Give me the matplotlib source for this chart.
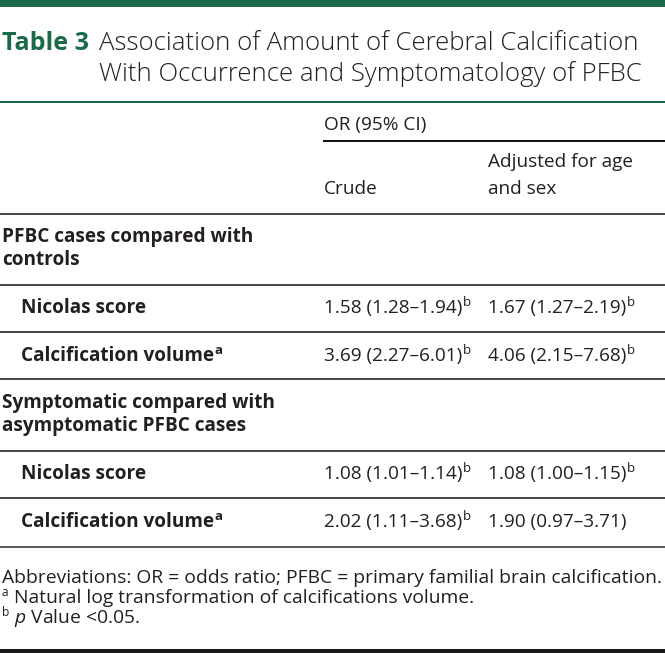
import matplotlib
matplotlib.use("Agg")
import matplotlib.pyplot as plt

# ---- data ----
title_tag = "Table 3"
title_lines = ["Association of Amount of Cerebral Calcification",
               "With Occurrence and Symptomatology of PFBC"]
group_header = "OR (95% CI)"
col_headers = ["Crude", "Adjusted for age\nand sex"]
sections = ["PFBC cases compared with\ncontrols",
            "Symptomatic compared with\nasymptomatic PFBC cases"]
row_labels = ["Nicolas score", "Calcification volume"]
row_label_sup = ["", "a"]
crude_vals = [["1.58 (1.28–1.94)", "3.69 (2.27–6.01)"],
              ["1.08 (1.01–1.14)", "2.02 (1.11–3.68)"]]
crude_sup = [["b", "b"], ["b", "b"]]
adj_vals = [["1.67 (1.27–2.19)", "4.06 (2.15–7.68)"],
            ["1.08 (1.00–1.15)", "1.90 (0.97–3.71)"]]
adj_sup = [["b", "b"], ["b", ""]]
footnotes = [("", "Abbreviations: OR = odds ratio; PFBC = primary familial brain calcification."),
             ("a", "Natural log transformation of calcifications volume."),
             ("b", "$p$ Value <0.05.")]

# ---- style ----
GREEN = "#1b6b4b"
TXT = "#231f20"
LINE = "#4a4a4a"
FONT = "Open Sans"
plt.rcParams['font.family'] = [FONT, 'DejaVu Sans']
plt.rcParams['mathtext.fontset'] = 'custom'
plt.rcParams['mathtext.it'] = 'Open Sans:italic'
plt.rcParams['mathtext.rm'] = 'Open Sans'

W, H = 665, 653
fig = plt.figure(figsize=(W / 100, H / 100), dpi=100)
ax = fig.add_axes([0, 0, 1, 1])
ax.set_xlim(0, W)
ax.set_ylim(H, 0)
ax.axis("off")

PX = 0.72  # points per pixel
BODY = 13.7
FOOT = 13.9
renderer = fig.canvas.get_renderer()


def hline(y, x0=0, x1=W, color=LINE, lw=2):
    ax.plot([x0, x1], [y, y], color=color, lw=lw * PX, solid_capstyle="butt")


def text_sup(x, y, s, sup, weight="normal", size=BODY):
    t = ax.text(x, y, s, fontsize=size, fontweight=weight, color=TXT,
                va="baseline", ha="left")
    if sup:
        bb = t.get_window_extent(renderer=renderer)
        xe = ax.transData.inverted().transform((bb.x1, bb.y0))[0]
        ax.text(xe + 0.5, y - 7.5, sup, fontsize=size * 0.7, fontweight=weight,
                color=TXT, va="baseline", ha="left")
    return t


# top bar and title
ax.add_patch(plt.Rectangle((0, 0), W, 7, color=GREEN, lw=0))
ax.text(2, 50, title_tag, fontsize=18, fontweight="bold", color=GREEN, va="baseline")
ax.text(99, 50, title_lines[0], fontsize=18.5, fontweight="light", color=TXT, va="baseline")
ax.text(99, 81, title_lines[1], fontsize=18.5, fontweight="light", color=TXT, va="baseline")
hline(101.5, color=GREEN, lw=2)

# column headers
COL = [324, 488]
ax.text(COL[0], 130, group_header, fontsize=BODY, color=TXT, va="baseline")
hline(141, COL[0] - 1, W, color="#111111", lw=2)
ax.text(COL[0], 194, col_headers[0], fontsize=BODY, color=TXT, va="baseline")
l1, l2 = col_headers[1].split("\n")
ax.text(COL[1], 167, l1, fontsize=BODY, color=TXT, va="baseline")
ax.text(COL[1], 194, l2, fontsize=BODY, color=TXT, va="baseline")
hline(214)

# body sections
sec_top = [214, 380]
for si, top in enumerate(sec_top):
    a, b = sections[si].split("\n")
    ax.text(2, top + 28, a, fontsize=BODY, fontweight="bold", color=TXT, va="baseline")
    ax.text(2, top + 51, b, fontsize=BODY, fontweight="bold", color=TXT, va="baseline")
    hline(top + 71)
    rtop = top + 71
    for ri in range(2):
        rh = 47
        yb = rtop + 28 if ri == 0 else rtop + 29
        text_sup(21, yb, row_labels[ri], row_label_sup[ri], weight="bold")
        text_sup(COL[0], yb, crude_vals[si][ri], crude_sup[si][ri])
        text_sup(COL[1], yb, adj_vals[si][ri], adj_sup[si][ri])
        rtop += rh
        if not (si == 1 and ri == 1):
            hline(rtop)
hline(547, color="#5a5a5a")

# footnotes
fy = [583, 603, 623]
for (sup, s), y in zip(footnotes, fy):
    x = 2
    if sup:
        ax.text(x, y - 6.5, sup, fontsize=FOOT * 0.62, color=TXT, va="baseline")
        x = 14
    ax.text(x, y, s, fontsize=FOOT, color=TXT, va="baseline")

ax.add_patch(plt.Rectangle((0, 649), W, 4, color="#1a1a1a", lw=0))

fig.savefig("out.png", dpi=100)
